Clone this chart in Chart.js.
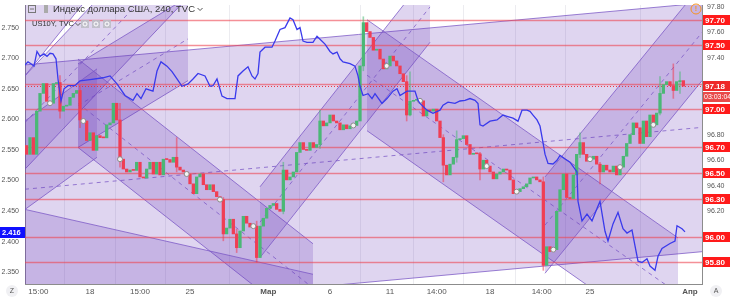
<!DOCTYPE html>
<html>
<head>
<meta charset="utf-8">
<script src="https://cdn.jsdelivr.net/npm/chart.js@4.4.1/dist/chart.umd.min.js"></script>
<style>
  html, body { margin: 0; padding: 0; background: #fff; }
  #wrap { width: 730px; height: 297px; }
</style>
</head>
<body>
<div id="wrap"><canvas id="myChart" width="730" height="297"></canvas></div>
<script>
// US dollar index, 240 min candles (TVC). candle index -1 .. 196, open = previous close
var firstOpen = 96.715;
var candleStart = -1;
var closes = [
  96.646, 96.777, 96.646, 96.984, 97.123, 97.200, 97.061, 97.046, 97.200, 97.208,
  96.984, 97.023, 97.030, 97.092, 97.123, 97.146, 96.915, 96.907, 96.754, 96.815,
  96.677, 96.792, 96.777, 96.775, 96.877, 96.892, 97.046, 96.915, 96.608, 96.531,
  96.508, 96.523, 96.520, 96.584, 96.469, 96.461, 96.531, 96.584, 96.492, 96.584,
  96.485, 96.608, 96.605, 96.584, 96.623, 96.546, 96.523, 96.508, 96.492, 96.415,
  96.338, 96.469, 96.492, 96.408, 96.369, 96.408, 96.354, 96.315, 96.292, 96.023,
  96.069, 96.138, 96.023, 95.915, 96.046, 96.161, 96.107, 96.077, 96.084, 95.838,
  96.084, 96.146, 96.223, 96.246, 96.261, 96.215, 96.200, 96.523, 96.446, 96.469,
  96.508, 96.661, 96.738, 96.684, 96.677, 96.738, 96.700, 96.723, 96.907, 96.869,
  96.892, 96.954, 96.907, 96.892, 96.838, 96.877, 96.846, 96.869, 96.872, 96.907,
  97.338, 97.677, 97.607, 97.561, 97.461, 97.469, 97.392, 97.315, 97.338, 97.415,
  97.377, 97.338, 97.277, 97.215, 96.954, 97.061, 97.069, 97.077, 97.065, 96.946,
  96.992, 96.984, 97.000, 96.907, 96.777, 96.561, 96.485, 96.569, 96.623, 96.761,
  96.769, 96.792, 96.723, 96.646, 96.654, 96.650, 96.531, 96.600, 96.554, 96.508,
  96.454, 96.492, 96.508, 96.531, 96.523, 96.446, 96.338, 96.354, 96.377, 96.392,
  96.415, 96.461, 96.469, 96.446, 96.431, 95.777, 95.923, 95.885, 95.900, 96.200,
  96.369, 96.492, 96.308, 96.300, 96.485, 96.646, 96.738, 96.646, 96.592, 96.608,
  96.631, 96.569, 96.508, 96.561, 96.523, 96.508, 96.554, 96.485, 96.546, 96.631,
  96.731, 96.800, 96.892, 96.854, 96.731, 96.907, 96.784, 96.954, 96.877, 96.969,
  97.123, 97.192, 97.215, 97.184, 97.146, 97.215, 97.223, 97.180
];
// only the wicks that stand out
var wickIdx  = [9, 15, 27, 44, 58, 62, 68, 76, 87, 100, 113, 114, 124, 128, 135, 154, 165, 171, 189, 193, 195];
var wickHigh = [97.262, 97.184, 97.046, 96.777, 96.308, 96.061, 96.123, 96.584, 96.992, 97.723, 97.262, 97.292, 96.800, 96.830, 96.661, 96.469, 96.815, 96.584, 97.254, 97.354, 97.292];
var wickLow  = [96.930, 96.854, 96.546, 96.508, 95.969, 95.877, 95.800, 96.180, 96.692, 97.300, 96.907, 96.946, 96.431, 96.584, 96.446, 95.738, 96.620, 96.415, 96.954, 97.084, 97.123];
var markerIdx = [6, 16, 27, 47, 57, 67, 97, 107, 117, 137, 146, 157, 168, 177, 187];

// US10Y yield (left axis), time in candle units
var bondT = [-1.5,-0.6,0.3,1.2,2.1,3.0,4.2,5.1,6.0,6.9,
  7.8,8.4,9.3,10.2,11.4,13.5,15.0,18.0,21.9,24.0,
  26.1,28.5,30.9,32.1,33.3,34.8,36.9,38.1,39.3,41.1,
  42.6,44.1,45.6,47.4,48.9,50.4,52.5,54.0,54.9,56.1,
  57.6,59.1,61.5,62.4,63.9,65.4,66.6,67.5,68.4,69.0,
  70.5,72.6,73.5,75.0,76.5,78.0,78.9,80.1,81.0,81.9,
  83.1,84.9,86.1,87.0,88.5,90.0,90.9,92.1,93.0,93.9,
  96.0,97.5,98.4,99.0,99.9,101.4,102.6,103.5,105.6,107.1,
  108.9,110.1,111.0,113.1,115.5,116.4,117.0,119.1,120.9,123.0,
  123.9,125.4,127.5,129.0,130.5,132.0,133.5,134.4,135.0,135.9,
  138.0,140.1,141.9,143.1,144.9,146.4,147.6,149.1,150.0,150.9,
  152.1,153.0,153.9,154.5,155.4,156.9,158.1,159.0,160.5,162.0,
  164.1,164.4,165.6,167.1,168.6,170.1,171.0,172.5,173.4,174.9,
  176.4,177.9,179.1,180.6,181.5,182.4,183.6,185.1,186.0,187.5,
  188.4,189.6,192.0,193.5,194.1,195.6,196.5];
var bondY = [2.689,2.694,2.691,2.687,2.711,2.703,2.707,2.703,2.708,2.707,
  2.699,2.666,2.630,2.650,2.655,2.655,2.663,2.665,2.668,2.671,
  2.658,2.639,2.631,2.642,2.634,2.650,2.646,2.679,2.694,2.687,
  2.678,2.666,2.654,2.658,2.666,2.675,2.671,2.654,2.655,2.666,
  2.638,2.634,2.634,2.671,2.679,2.686,2.671,2.666,2.675,2.710,
  2.718,2.718,2.728,2.747,2.750,2.766,2.763,2.747,2.750,2.728,
  2.726,2.726,2.736,2.731,2.723,2.711,2.707,2.710,2.699,2.694,
  2.691,2.687,2.671,2.654,2.639,2.642,2.634,2.642,2.626,2.634,
  2.646,2.650,2.639,2.646,2.646,2.631,2.626,2.615,2.610,2.615,
  2.623,2.628,2.626,2.630,2.631,2.634,2.631,2.626,2.591,2.589,
  2.597,2.599,2.607,2.605,2.602,2.597,2.615,2.615,2.613,2.607,
  2.599,2.589,2.562,2.543,2.528,2.527,2.533,2.541,2.535,2.530,
  2.514,2.466,2.434,2.445,2.434,2.454,2.466,2.417,2.401,2.429,
  2.448,2.421,2.414,2.419,2.393,2.368,2.366,2.372,2.360,2.353,
  2.376,2.389,2.397,2.401,2.426,2.421,2.416];
var bondLast = 2.416;

// axis ticks
var xTickPos  = [2.5, 18, 33, 48, 71.5, 90, 108, 122, 138, 153.5, 168, 198];
var xTickText = ['15:00', '18', '15:00', '25', 'Мар', '6', '11', '14:00', '18', '14:00', '25', 'Апр'];
var leftTicks  = [2.75, 2.70, 2.65, 2.60, 2.55, 2.50, 2.45, 2.40, 2.35];
var rightTicks = [97.8, 97.6, 97.4, 97.2, 97.0, 96.8, 96.6, 96.4, 96.2, 96.0, 95.8];

// horizontal levels (right axis) and last price
var levels = [97.70, 97.50, 97.20, 97.00, 96.70, 96.50, 96.30, 96.00, 95.80];
var levelTags = [97.70, 97.50, 97.00, 96.70, 96.50, 96.30, 96.00, 95.80];
var lastPrice = 97.18;
var countdown = '03:03:04';

// parallel channels: start/end (candle index), upper edge price at start/end, height
var chStart = [-1.5, -1.5, 14.4, 14.4, 69, 101.1, 154.5, -1.5, -1.5, -1.5];
var chEnd   = [201.6, 47.4, 47.4, 84.9, 120, 194.4, 201.6, 84.9, 20.1, 20.1];
var chTop0  = [97.346, 97.261, 97.354, 97.392, 96.392, 97.700, 96.469, 96.215, 96.907, 97.861];
var chTop1  = [97.830, 98.607, 97.877, 95.946, 98.077, 95.992, 97.977, 95.707, 97.315, 98.561];
var chHeight = [1.946, 0.731, 0.654, 0.692, 0.554, 0.869, 0.754, 1.0, 0.692, 0.6];
var chMid   = [1, 1, 1, 1, 1, 1, 1, 0, 0, 0];

var UP = 'rgb(74,184,118)', DOWN = 'rgb(240,62,84)';
var UPW = 'rgba(74,184,118,0.55)', DOWNW = 'rgba(240,62,84,0.55)';

var bodies = [], bodyColors = [];
for (var k = 0; k < closes.length; k++) {
  var o = k === 0 ? firstOpen : closes[k - 1];
  bodies.push({ x: candleStart + k, y: [o, closes[k]] });
  bodyColors.push(closes[k] >= o ? UP : DOWN);
}
var wicks = [], wickColors = [];
for (var w = 0; w < wickIdx.length; w++) {
  var ci = wickIdx[w] - candleStart;
  var op = ci === 0 ? firstOpen : closes[ci - 1];
  wicks.push({ x: wickIdx[w], y: [wickLow[w], wickHigh[w]] });
  wickColors.push(closes[ci] >= op ? UPW : DOWNW);
}
var markers = markerIdx.map(function (i) { return { x: i, y: closes[i - candleStart] }; });
var bond = bondT.map(function (t, i) { return { x: t, y: bondY[i] }; });

Chart.defaults.font.family = '"Liberation Sans", Arial, sans-serif';

var overlay = {
  id: 'overlay',
  beforeDatasetsDraw: function (chart) {
    var ctx = chart.ctx, a = chart.chartArea, x = chart.scales.x, yR = chart.scales.yR;
    ctx.save();
    ctx.beginPath();
    ctx.rect(a.left, a.top, a.right - a.left, a.bottom - a.top);
    ctx.clip();
    for (var c = 0; c < chStart.length; c++) {
      var x0 = x.getPixelForValue(chStart[c]), x1 = x.getPixelForValue(chEnd[c]);
      var u0 = yR.getPixelForValue(chTop0[c]), u1 = yR.getPixelForValue(chTop1[c]);
      var l0 = yR.getPixelForValue(chTop0[c] - chHeight[c]), l1 = yR.getPixelForValue(chTop1[c] - chHeight[c]);
      ctx.fillStyle = 'rgba(103,58,183,0.21)';
      ctx.beginPath();
      ctx.moveTo(x0, u0); ctx.lineTo(x1, u1); ctx.lineTo(x1, l1); ctx.lineTo(x0, l0);
      ctx.closePath();
      ctx.fill();
      ctx.strokeStyle = 'rgba(120,84,196,0.75)';
      ctx.lineWidth = 1;
      ctx.setLineDash([]);
      ctx.beginPath();
      ctx.moveTo(x0, u0); ctx.lineTo(x1, u1);
      ctx.moveTo(x0, l0); ctx.lineTo(x1, l1);
      ctx.stroke();
      if (chMid[c]) {
        ctx.setLineDash([4, 4]);
        ctx.beginPath();
        ctx.moveTo(x0, (u0 + l0) / 2); ctx.lineTo(x1, (u1 + l1) / 2);
        ctx.stroke();
      }
    }
    ctx.setLineDash([]);
    ctx.strokeStyle = 'rgba(236,70,82,0.6)';
    ctx.lineWidth = 1.6;
    levels.forEach(function (v) {
      var py = Math.round(yR.getPixelForValue(v)) + 0.5;
      ctx.beginPath(); ctx.moveTo(a.left, py); ctx.lineTo(a.right, py); ctx.stroke();
    });
    var lp = Math.round(yR.getPixelForValue(lastPrice)) + 0.5;
    ctx.strokeStyle = 'rgba(238,40,50,0.9)';
    ctx.lineWidth = 1;
    ctx.setLineDash([1, 2]);
    ctx.beginPath(); ctx.moveTo(a.left, lp); ctx.lineTo(a.right, lp); ctx.stroke();
    ctx.restore();
  },
  afterDraw: function (chart) {
    var ctx = chart.ctx, a = chart.chartArea, yR = chart.scales.yR, yL = chart.scales.yL;
    ctx.save();
    function tag(v, txt, fill) {
      var py = yR.getPixelForValue(v);
      ctx.fillStyle = fill;
      ctx.fillRect(a.right + 1, Math.round(py) - 5, 27, 10);
      ctx.fillStyle = '#fff';
      ctx.font = 'bold 8px "Liberation Sans", Arial, sans-serif';
      ctx.textBaseline = 'middle';
      ctx.textAlign = 'left';
      ctx.fillText(txt, a.right + 3, Math.round(py) + 0.5);
    }
    levelTags.forEach(function (v) { tag(v, v.toFixed(2), '#ff1a1a'); });
    tag(lastPrice, lastPrice.toFixed(2), '#ee2828');
    var cy = yR.getPixelForValue(lastPrice) + 11;
    ctx.fillStyle = '#e84a4a';
    ctx.fillRect(a.right + 1, Math.round(cy) - 5, 29, 10);
    ctx.fillStyle = '#fff';
    ctx.font = '7px "Liberation Sans", Arial, sans-serif';
    ctx.fillText(countdown, a.right + 2, Math.round(cy) + 0.5);

    // US10Y last value
    var by = Math.round(yL.getPixelForValue(bondLast));
    ctx.fillStyle = '#1010ff';
    ctx.fillRect(0, by - 5, a.left, 11);
    ctx.fillStyle = '#fff';
    ctx.font = 'bold 7.5px "Liberation Sans", Arial, sans-serif';
    ctx.textAlign = 'left';
    ctx.fillText(bondLast.toFixed(3), 2, by + 0.5);

    // legend text
    ctx.strokeStyle = '#777';
    ctx.lineWidth = 1;
    ctx.strokeRect(28.5, 5.5, 7, 7);
    ctx.beginPath(); ctx.moveTo(30, 9); ctx.lineTo(34, 9); ctx.stroke();
    ctx.fillStyle = '#aaa';
    ctx.fillRect(44, 5, 4, 8);
    ctx.fillStyle = '#333';
    ctx.font = '9.5px "Liberation Sans", Arial, sans-serif';
    ctx.textBaseline = 'middle';
    ctx.fillText('Индекс доллара США, 240, TVC', 53, 9.5);
    var tw = ctx.measureText('Индекс доллара США, 240, TVC').width;
    chev(53 + tw + 5, 9);
    ctx.fillStyle = '#333';
    ctx.font = '7.5px "Liberation Sans", Arial, sans-serif';
    ctx.fillText('US10Y, TVC', 32, 24);
    var tw2 = ctx.measureText('US10Y, TVC').width;
    chev(32 + tw2 + 4, 24);
    [81, 92, 103].forEach(function (bx) {
      ctx.fillStyle = 'rgba(190,190,200,0.9)';
      ctx.fillRect(bx, 20, 8, 8);
      ctx.strokeStyle = '#fff';
      ctx.beginPath(); ctx.arc(bx + 4, 24, 2, 0, Math.PI * 2); ctx.stroke();
    });
    function chev(cx, cyy) {
      ctx.strokeStyle = '#555';
      ctx.lineWidth = 1;
      ctx.beginPath(); ctx.moveTo(cx - 2.5, cyy - 1); ctx.lineTo(cx, cyy + 1.5); ctx.lineTo(cx + 2.5, cyy - 1); ctx.stroke();
    }

    // alert icon
    ctx.strokeStyle = '#f7931e';
    ctx.lineWidth = 1;
    ctx.beginPath(); ctx.arc(696, 9, 5, 0, Math.PI * 2); ctx.stroke();
    ctx.fillStyle = '#f7931e';
    ctx.font = 'bold 7px "Liberation Sans", Arial, sans-serif';
    ctx.textAlign = 'center';
    ctx.fillText('!', 696, 9.5);

    // corner buttons
    [[12, 'Z'], [716, 'A']].forEach(function (b) {
      ctx.fillStyle = '#f0f0f3';
      ctx.beginPath(); ctx.arc(b[0], 291, 6, 0, Math.PI * 2); ctx.fill();
      ctx.fillStyle = '#555';
      ctx.font = '7px "Liberation Sans", Arial, sans-serif';
      ctx.fillText(b[1], b[0], 291.5);
    });
    ctx.restore();
  }
};

var chart = new Chart(document.getElementById('myChart'), {
  type: 'bar',
  data: {
    datasets: [
      {
        type: 'line', label: 'US10Y', data: bond, yAxisID: 'yL', xAxisID: 'x',
        borderColor: 'rgb(58,58,236)', borderWidth: 1.3, pointRadius: 0, tension: 0, order: 0
      },
      {
        type: 'line', label: 'anchors', data: markers, yAxisID: 'yR', xAxisID: 'x', showLine: false,
        pointRadius: 2.5, pointBackgroundColor: '#f4f4f4', pointBorderColor: '#8a8a8a', pointBorderWidth: 1, order: 0
      },
      {
        label: 'DXY', data: bodies, yAxisID: 'yR', xAxisID: 'x', backgroundColor: bodyColors,
        barThickness: 2.6, minBarLength: 1, grouped: false, order: 1
      },
      {
        label: 'wicks', data: wicks, yAxisID: 'yR', xAxisID: 'x', backgroundColor: wickColors,
        barThickness: 1, grouped: false, order: 2
      }
    ]
  },
  options: {
    responsive: false,
    animation: false,
    devicePixelRatio: 1,
    layout: { padding: 0 },
    plugins: { legend: { display: false }, tooltip: { enabled: false } },
    scales: {
      x: {
        type: 'linear', position: 'bottom', min: -1.5, max: 201.6, offset: false,
        grid: { color: '#ececf0', drawTicks: false },
        border: { display: true, color: '#8c8c8c' },
        afterBuildTicks: function (s) { s.ticks = xTickPos.map(function (v) { return { value: v }; }); },
        ticks: {
          autoSkip: false, maxRotation: 0, padding: 3, color: '#555',
          font: function (c) {
            var t = xTickText[xTickPos.indexOf(c.tick && c.tick.value)];
            return { size: 8, weight: (t === 'Мар' || t === 'Апр') ? 'bold' : 'normal' };
          },
          callback: function (v) { return xTickText[xTickPos.indexOf(v)]; }
        },
        afterFit: function (s) { s.height = 13; s.paddingLeft = 0; s.paddingRight = 0; }
      },
      yL: {
        type: 'linear', position: 'left', min: 2.3307, max: 2.787,
        grid: { display: false, drawTicks: false },
        border: { display: true, color: '#8c8c8c' },
        afterBuildTicks: function (s) { s.ticks = leftTicks.map(function (v) { return { value: v }; }); },
        ticks: { padding: 6, color: '#555', font: { size: 7 }, callback: function (v) { return v.toFixed(3); } },
        afterFit: function (s) { s.width = 25; s.paddingTop = 0; s.paddingBottom = 0; }
      },
      yR: {
        type: 'linear', position: 'right', min: 95.631, max: 97.815,
        grid: { display: false, drawTicks: false },
        border: { display: true, color: '#8c8c8c' },
        afterBuildTicks: function (s) { s.ticks = rightTicks.map(function (v) { return { value: v }; }); },
        ticks: { padding: 5, color: '#555', font: { size: 7 }, callback: function (v) { return v.toFixed(2); } },
        afterFit: function (s) { s.width = 28; s.paddingTop = 0; s.paddingBottom = 0; }
      }
    }
  },
  plugins: [overlay]
});
</script>
</body>
</html>
